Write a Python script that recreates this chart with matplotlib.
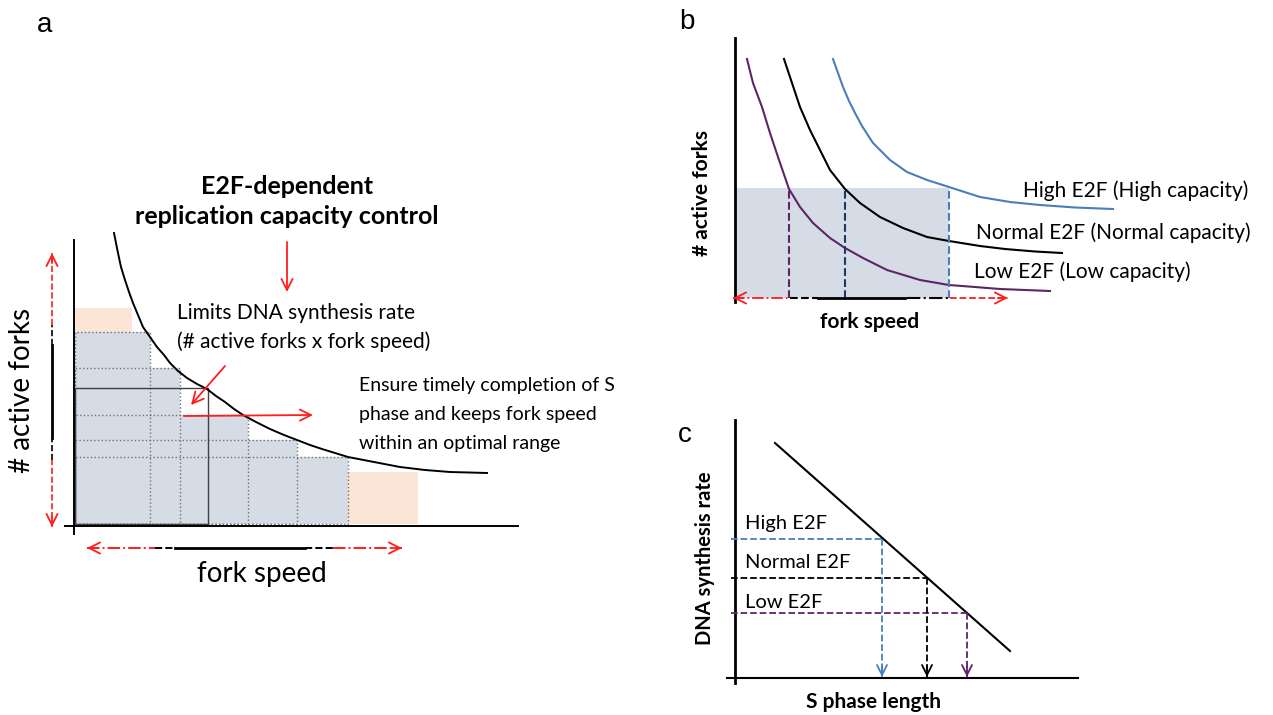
import matplotlib.pyplot as plt
from matplotlib.patches import Rectangle

plt.rcParams['font.family'] = ['Lato', 'DejaVu Sans']

W, H = 1273, 715
RED = '#FF1E1E'
FILL = '#D6DCE5'
PEACH = '#FBE5D6'
BLUE = '#4A7EBB'
PURPLE = '#5E2468'
NAVY = '#203864'

# ---- panel a: fork speed vs # active forks ----
a_curve_x = [40, 42, 44, 47, 51, 55, 59, 64, 69, 76, 83, 90, 96, 104, 113, 123, 133,
             142, 151, 160, 169, 182, 196, 210, 223, 236, 248, 261, 274, 300, 326,
             351, 376, 395, 413]
a_curve_y = [292, 282, 272, 258, 245, 233, 222, 210, 198, 188, 178, 170, 162, 154, 147,
             141, 136, 129, 123, 116, 110, 103, 96, 90, 85, 80, 76, 72, 68, 63, 58,
             55, 53, 52.5, 52]
a_step_right = [76, 106, 174, 223, 274]
a_step_top = [193, 157, 110, 85, 68]
a_chosen = (134, 137)               # solid box: fork speed, forks
a_peach = [(1, 193, 57, 24), (274, 1, 70, 52)]   # x, y, w, h
a_title = ['E2F-dependent', 'replication capacity control']
a_note1 = ['Limits DNA synthesis rate', '(# active forks x fork speed)']
a_note2 = ['Ensure timely completion of S', 'phase and keeps fork speed',
           'within an optimal range']

# ---- panel b: capacity curves ----
b_low_x = [12, 18, 27, 35, 43, 54, 65, 78, 95, 110, 128, 152, 185, 214, 240, 265, 290, 315]
b_low_y = [239, 215, 191, 165, 141, 109, 91, 75, 60, 50, 40, 28, 18, 13, 11, 9, 8, 7]
b_norm_x = [49, 57, 65, 75, 85, 95, 110, 125, 145, 168, 192, 214, 245, 270, 300, 327]
b_norm_y = [239, 215, 191, 168, 148, 128, 109, 95, 81, 70, 61, 57, 52, 49, 46.5, 45]
b_high_x = [98, 103, 108, 114, 120, 127, 138, 155, 172, 192, 214, 245, 275, 305, 340, 378]
b_high_y = [239, 225, 211, 197, 185, 172, 155, 138, 126, 118, 111, 101, 96, 93, 90.5, 89]
b_forks = 110
b_speed = [54, 110, 214]
b_labels = ['Low E2F (Low capacity)', 'Normal E2F (Normal capacity)',
            'High E2F (High capacity)']

# ---- panel c: synthesis rate vs S phase length ----
c_line_x = [40, 275]
c_line_y = [235, 27]
c_rate = [65, 100, 139]
c_length = [232, 192, 147]
c_labels = ['Low E2F', 'Normal E2F', 'High E2F']

fig = plt.figure(figsize=(W / 100, H / 100), dpi=100)


def panel(box, origin):
    x0, y0, x1, y1 = box
    ax = fig.add_axes([x0 / W, 1 - y1 / H, (x1 - x0) / W, (y1 - y0) / H])
    ox, oy = origin
    ax.set_xlim(x0 - ox, x1 - ox)
    ax.set_ylim(oy - y1, oy - y0)
    ax.axis('off')
    return ax


def head(ax, tip, tail, color=RED, ms=20):
    ax.annotate('', xy=tip, xytext=tail,
                arrowprops=dict(arrowstyle='->', color=color, lw=1.3,
                                mutation_scale=ms, shrinkA=0, shrinkB=0))


def axis_arrow(ax, segs, horizontal, pos):
    for lo, hi, col, ls, lw in segs:
        if horizontal:
            ax.plot([lo, hi], [pos, pos], color=col, ls=ls, lw=lw)
        else:
            ax.plot([pos, pos], [lo, hi], color=col, ls=ls, lw=lw)
    lo, hi = segs[0][0], segs[-1][1]
    if horizontal:
        head(ax, (lo, pos), (lo + 10, pos))
        head(ax, (hi, pos), (hi - 10, pos))
    else:
        head(ax, (pos, lo), (pos, lo + 10))
        head(ax, (pos, hi), (pos, hi - 10))


# ================= a =================
ax = panel((0, 0, 650, 715), (74, 525))
for x, y, w, h in a_peach:
    ax.add_patch(Rectangle((x, y), w, h, color=PEACH, lw=0))
for r, t in zip(a_step_right, a_step_top):
    ax.add_patch(Rectangle((1, 1), r - 1, t - 1, facecolor=FILL, lw=0))
for r, t in zip(a_step_right, a_step_top):
    ax.add_patch(Rectangle((1, 1), r - 1, t - 1, fill=False,
                           edgecolor='#707070', ls=':', lw=1))
ax.add_patch(Rectangle((1, 1), a_chosen[0] - 1, a_chosen[1] - 1, fill=False,
                       edgecolor='#404040', lw=1))
ax.plot(a_curve_x, a_curve_y, color='black', lw=1.4)
ax.plot([0, 0], [-9, 285], color='black', lw=1.4)
ax.plot([-9, 444], [-1, -1], color='black', lw=1.4)

axis_arrow(ax, [(-2, 65, RED, '--', 1.2), (65, 87, 'black', '--', 1.2),
                (87, 180, 'black', '-', 2), (180, 200, 'black', '--', 1.2),
                (200, 272, RED, '--', 1.2)], False, -22)
axis_arrow(ax, [(13, 81, RED, '-.', 1.4), (81, 101, 'black', '--', 1.4),
                (101, 231, 'black', '-', 2), (231, 259, 'black', '--', 1.4),
                (259, 328, RED, '-.', 1.4)], True, -23)

head(ax, (213, 233), (213, 283))
head(ax, (117, 120), (151, 159))
head(ax, (239, 110), (110, 109))

ax.text(-29, 500, 'a', fontsize=20, family='Liberation Sans', ha='center', va='center')
ax.text(213, 338, a_title[0], fontsize=18, weight='bold', ha='center', va='center')
ax.text(213, 308, a_title[1], fontsize=18, weight='bold', ha='center', va='center')
for i, s in enumerate(a_note1):
    ax.text(103, 212 - 29 * i, s, fontsize=15, ha='left', va='center')
for i, s in enumerate(a_note2):
    ax.text(285, 139 - 28.5 * i, s, fontsize=14, ha='left', va='center')
ax.text(-52, 135, '# active forks', fontsize=20, rotation=90, ha='center', va='center')
ax.text(188, -49, 'fork speed', fontsize=20, ha='center', va='center')

# ================= b =================
ax = panel((650, 0, 1273, 390), (735, 298))
ax.add_patch(Rectangle((0, 0), b_speed[2], b_forks, color=FILL, lw=0))
ax.plot([0, 0], [-4, 260], color='black', lw=2)
for xs, ys, col in [(b_low_x, b_low_y, PURPLE), (b_norm_x, b_norm_y, 'black'),
                    (b_high_x, b_high_y, BLUE)]:
    ax.plot(xs, ys, color=col, lw=1.5)
for x, col in zip(b_speed, [PURPLE, NAVY, BLUE]):
    ax.plot([x, x], [0, b_forks], color=col, ls='--', lw=1.5)
axis_arrow(ax, [(-2, 55, RED, '-.', 1.3), (55, 83, 'black', '--', 1.5),
                (83, 170, 'black', '-', 2), (172, 215, 'black', '-.', 1.5),
                (215, 273, RED, '--', 1.3)], True, 0)
for s, (x, y) in zip(b_labels, [(239, 26), (241, 65), (288, 107)]):
    ax.text(x, y, s, fontsize=15, ha='left', va='center')
ax.text(-48, 276, 'b', fontsize=20, family='Liberation Sans', ha='center', va='center')
ax.text(-33, 105, '# active forks', fontsize=15, weight='bold', rotation=90,
        ha='center', va='center')
ax.text(135, -24, 'fork speed', fontsize=15, weight='bold', ha='center', va='center')

# ================= c =================
ax = panel((650, 390, 1273, 715), (735, 678))
ax.plot([0, 0], [-5, 258], color='black', lw=2)
ax.plot([-8, 343], [0, 0], color='black', lw=1.5)
ax.plot(c_line_x, c_line_y, color='black', lw=1.5)
for r, L, col in zip(c_rate, c_length, [PURPLE, 'black', BLUE]):
    ax.plot([-4, L], [r, r], color=col, ls='--', lw=1.3)
    ax.plot([L, L], [r, 1], color=col, ls='--', lw=1.3)
    head(ax, (L, 1), (L, 12), color=col, ms=18)
for s, r in zip(c_labels, [76, 115, 154]):
    ax.text(10, r, s, fontsize=14.5, ha='left', va='center')
ax.text(-50, 243, 'c', fontsize=20, family='Liberation Sans', ha='center', va='center')
ax.text(-30, 120, 'DNA synthesis rate', fontsize=14.5, weight='bold', rotation=90,
        ha='center', va='center')
ax.text(138, -24, 'S phase length', fontsize=15, weight='bold', ha='center', va='center')

fig.savefig('out.png', dpi=100)
